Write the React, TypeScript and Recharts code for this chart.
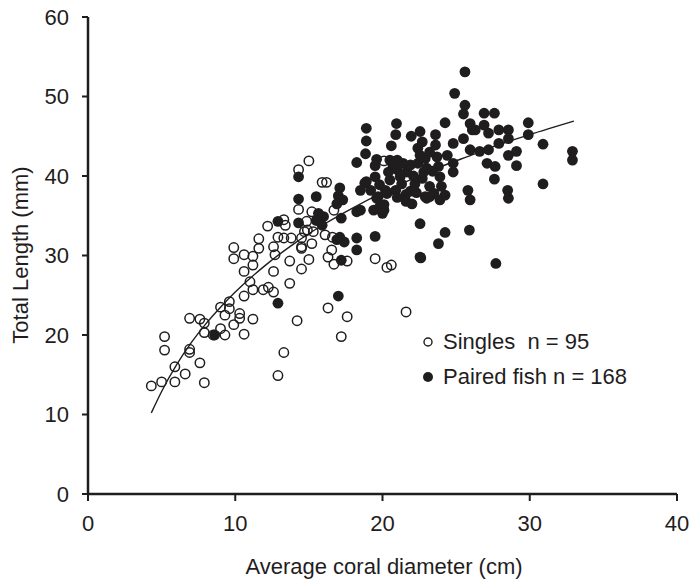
import { ComposedChart, Scatter, Line, XAxis, YAxis, Label, Legend } from 'recharts';

const FONT = '"Liberation Sans", Arial, Helvetica, sans-serif';
const INK = '#1f1d1e';

// singles (open circles)
const singlesDiameter = [
    4.3, 5.0, 5.9, 5.2, 5.2, 5.9, 6.6, 6.9, 6.9, 7.6, 7.9, 6.9, 7.6, 7.9, 7.9,
    8.5, 9.0, 9.3, 9.0, 9.3, 9.6, 9.6, 9.9, 10.3, 10.3, 10.6, 11.2, 10.6, 11.2, 11.9,
    12.25, 12.6, 11.0, 10.6, 11.2, 9.9, 9.9, 10.6, 11.2, 11.6, 11.6, 12.6, 12.6, 12.7, 12.9,
    13.3, 13.8, 13.7, 14.5, 14.5, 13.7, 14.2, 13.3, 12.9, 12.2, 13.3, 13.4, 14.3, 14.85, 14.9,
    15.0, 14.5, 15.2, 14.5, 14.7, 15.3, 16.1, 16.6, 16.55, 16.3, 16.7, 17.6, 15.0, 14.3, 15.9,
    16.2, 15.2, 16.7, 19.5, 20.3, 20.6, 20.1, 16.3, 17.6, 17.2, 21.6,
];
const singlesLength = [
    13.6, 14.1, 14.1, 19.8, 18.1, 16.0, 15.1, 18.2, 17.8, 16.5, 14.0, 22.1, 22.0, 21.5, 20.3,
    20.0, 20.8, 20.0, 23.5, 22.5, 24.2, 23.3, 21.3, 22.7, 22.1, 20.1, 22.0, 24.9, 25.7, 25.7,
    26.0, 25.4, 26.7, 28.0, 28.8, 29.6, 31.0, 30.1, 29.9, 30.9, 32.1, 28.0, 31.1, 30.1, 32.3,
    32.2, 32.2, 29.3, 30.9, 28.3, 26.5, 21.8, 17.8, 14.9, 33.7, 34.5, 33.8, 35.8, 34.3, 33.2,
    29.5, 32.2, 31.5, 31.1, 33.0, 33.0, 32.6, 32.3, 30.7, 29.8, 28.9, 29.3, 41.9, 40.8, 39.2,
    39.2, 35.5, 35.7, 29.6, 28.5, 28.8, 41.9, 23.4, 22.3, 19.8, 22.9,
];

// paired fish (filled circles)
const pairedDiameter = [
    8.6, 12.9, 12.9, 14.3, 14.3, 14.3, 15.5, 15.65, 16.0, 15.9, 15.5, 17.1, 17.0, 17.3, 16.9,
    17.2, 17.1, 17.4, 16.9, 17.2, 17.0, 18.25, 18.25, 19.5, 18.25, 18.25, 18.9, 18.9, 18.85, 19.6,
    19.5, 20.95, 20.9, 20.6, 21.95, 18.5, 18.9, 19.5, 19.8, 20.2, 20.5, 19.6, 19.8, 20.1, 22.55,
    22.55, 21.9, 18.8, 19.2, 19.7, 20.1, 20.3, 20.9, 22.7, 23.0, 23.2, 23.9, 20.0, 18.5, 19.4,
    20.5, 20.7, 20.4, 21.0, 21.2, 21.65, 21.9, 21.4, 21.0, 22.55, 22.7, 22.4, 22.55, 22.4, 22.8,
    23.6, 23.6, 23.7, 23.8, 23.9, 24.0, 23.2, 23.5, 24.25, 24.8, 24.8, 24.4, 24.8, 25.5, 25.6,
    25.6, 24.9, 25.8, 25.95, 26.9, 27.6, 25.95, 26.1, 26.3, 26.9, 29.9, 27.9, 28.55, 27.2, 28.55,
    29.9, 30.9, 25.5, 25.95, 26.6, 27.2, 27.9, 28.55, 29.1, 29.1, 27.1, 27.65, 27.6, 28.5, 28.55,
    30.9, 24.25, 25.9, 22.9, 24.25, 32.9, 32.9, 22.6, 23.8, 27.7, 21.3, 21.6, 22.2, 22.1, 22.3,
    21.0, 23.4, 23.0, 22.9, 23.2, 21.6, 22.0,
];
const pairedLength = [
    20.0, 24.0, 34.3, 34.1, 37.1, 39.9, 37.4, 35.3, 34.9, 33.8, 34.4, 38.5, 37.5, 37.0, 36.5,
    34.7, 32.3, 31.7, 32.0, 29.4, 24.9, 32.2, 30.7, 32.4, 35.5, 41.7, 46.0, 44.4, 42.8, 42.1,
    41.3, 46.6, 45.2, 43.8, 45.0, 38.2, 39.3, 39.9, 38.9, 38.2, 39.5, 37.2, 36.1, 35.7, 34.0,
    29.8, 38.1, 39.1, 38.2, 37.4, 36.4, 37.8, 38.2, 39.7, 37.2, 37.4, 37.0, 35.3, 35.7, 35.7,
    42.0, 41.4, 40.5, 40.8, 39.9, 40.5, 41.4, 41.6, 42.0, 45.6, 44.3, 43.5, 42.6, 41.6, 40.5,
    45.2, 43.9, 42.4, 41.2, 39.9, 38.7, 38.7, 37.8, 46.7, 44.1, 41.6, 42.6, 40.5, 47.8, 48.9,
    53.1, 50.4, 38.2, 37.0, 47.9, 47.9, 46.6, 45.8, 45.8, 46.4, 46.7, 45.8, 45.8, 45.4, 44.7,
    45.2, 44.0, 44.7, 43.3, 43.1, 43.3, 44.1, 42.6, 43.1, 41.3, 41.6, 41.2, 39.6, 38.2, 37.2,
    39.0, 32.9, 33.2, 37.4, 37.6, 43.1, 42.0, 29.7, 31.5, 29.0, 39.0, 37.7, 39.0, 40.0, 37.9,
    37.3, 40.6, 41.0, 42.2, 43.0, 36.8, 36.5,
];

// fitted curve
const fitDiameter = [4.3, 5, 6, 7, 8, 9, 10, 12, 14, 16, 18, 20, 22, 24, 26, 28, 30, 33];
const fitLength = [10.2, 12.9, 16.2, 19.0, 21.4, 23.5, 25.4, 28.7, 31.5, 33.9, 36.0, 37.9, 39.6, 41.2, 42.6, 44.0, 45.2, 46.9];

const xTicks = [0, 10, 20, 30, 40];
const yTicks = [0, 10, 20, 30, 40, 50, 60];

const singles = singlesDiameter.map((x, i) => ({ x, y: singlesLength[i] }));
const paired = pairedDiameter.map((x, i) => ({ x, y: pairedLength[i] }));
const fit = fitDiameter.map((x, i) => ({ x, y: fitLength[i] }));

const OpenDot = (props: any) => (
    <circle cx={props.cx} cy={props.cy} r={4.7} fill="none" stroke={INK} strokeWidth={1.5} />
);

const FilledDot = (props: any) => (
    <circle cx={props.cx} cy={props.cy} r={5.4} fill={INK} />
);

function LegendBox() {
    const row = { display: 'flex', alignItems: 'center', height: 35 } as const;
    return (
        <div style={{ fontFamily: FONT, fontSize: 22, color: INK, lineHeight: '22px' }}>
            <div style={row}>
                <svg width={16} height={16}>
                    <circle cx={8} cy={8} r={4} fill="none" stroke={INK} strokeWidth={1.4} />
                </svg>
                <span style={{ marginLeft: 7, whiteSpace: 'pre' }}>{'Singles  n = 95'}</span>
            </div>
            <div style={row}>
                <svg width={16} height={16}>
                    <circle cx={8} cy={8} r={5} fill={INK} />
                </svg>
                <span style={{ marginLeft: 7, whiteSpace: 'pre' }}>{'Paired fish n = 168'}</span>
            </div>
        </div>
    );
}

export default function App() {
    const tick = { fill: INK, fontSize: 22, fontFamily: FONT };
    return (
        <div style={{ position: 'absolute', left: 0, top: 0, width: 689, height: 579, background: '#fff' }}>
            <ComposedChart
                width={689}
                height={579}
                margin={{ top: 17, right: 12, left: 28, bottom: 25 }}
            >
                <XAxis
                    type="number"
                    dataKey="x"
                    domain={[0, 40]}
                    ticks={xTicks}
                    interval={0}
                    height={60}
                    tickSize={7}
                    tickMargin={14}
                    axisLine={{ stroke: INK, strokeWidth: 2.5 }}
                    tickLine={{ stroke: INK, strokeWidth: 2 }}
                    tick={tick}
                >
                    <Label
                        content={() => (
                            <text x={384} y={574} textAnchor="middle" fontSize={22} fontFamily={FONT} fill={INK}>
                                Average coral diameter (cm)
                            </text>
                        )}
                    />
                </XAxis>
                <YAxis
                    type="number"
                    dataKey="y"
                    domain={[0, 60]}
                    ticks={yTicks}
                    interval={0}
                    width={60}
                    tickSize={6}
                    tickMargin={13}
                    axisLine={{ stroke: INK, strokeWidth: 2.5 }}
                    tickLine={{ stroke: INK, strokeWidth: 2 }}
                    tick={tick}
                >
                    <Label
                        content={() => (
                            <text
                                x={20}
                                y={255}
                                transform="rotate(-90 20 255)"
                                textAnchor="middle"
                                dominantBaseline="central"
                                fontSize={22}
                                fontFamily={FONT}
                                fill={INK}
                            >
                                Total Length (mm)
                            </text>
                        )}
                    />
                </YAxis>
                <Legend
                    layout="vertical"
                    align="center"
                    verticalAlign="middle"
                    wrapperStyle={{ position: 'absolute', left: 420, top: 324, width: 260 }}
                    content={() => <LegendBox />}
                />
                <Scatter name="Singles" data={singles} shape={OpenDot} isAnimationActive={false} />
                <Scatter name="Paired fish" data={paired} shape={FilledDot} isAnimationActive={false} />
                <Line
                    data={fit}
                    dataKey="y"
                    type="monotone"
                    stroke={INK}
                    strokeWidth={1.4}
                    dot={false}
                    activeDot={false}
                    legendType="none"
                    isAnimationActive={false}
                />
            </ComposedChart>
        </div>
    );
}
